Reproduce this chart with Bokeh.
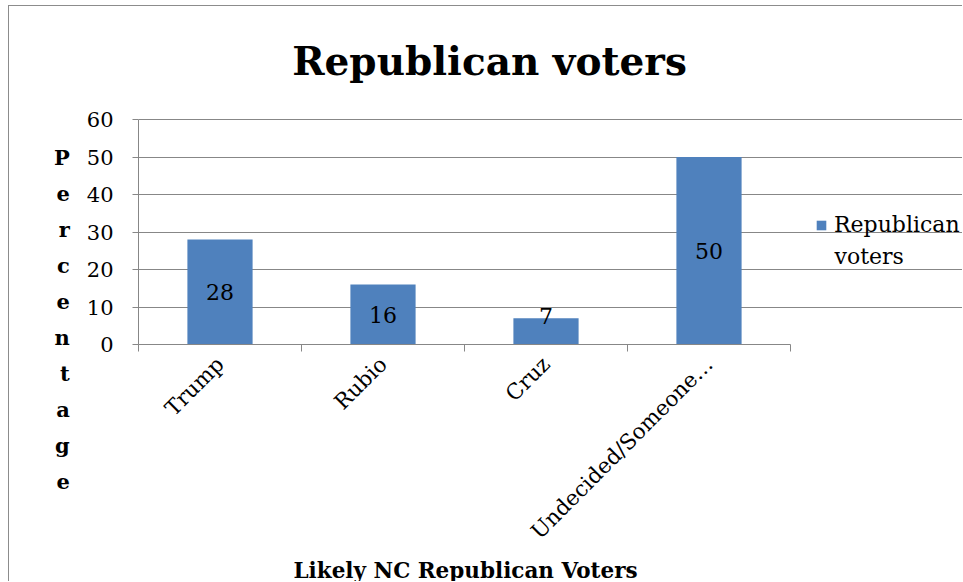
from math import pi
from bokeh.plotting import figure
from bokeh.models import Label, FixedTicker, Range1d, Legend, LegendItem, ColumnDataSource, Title
from bokeh.embed import file_html
from bokeh.resources import INLINE

categories = ["Trump", "Rubio", "Cruz", "Undecided/Someone…"]
values = [28, 16, 7, 50]
series_name = "Republican voters"
y_ticks = [0, 10, 20, 30, 40, 50, 60]
title_text = "Republican voters"
x_title = "Likely NC Republican Voters"
y_title = "Percentage"

FONT = "DejaVu Serif"
BLUE = "#4F81BD"
GRID = "#878787"

# page-pixel layout
FL, FR, FT, FB = 138, 790, 119, 344   # where x 0..4 and y 0..60 lie
OX, OY = 8, 5                          # outer chart border offset
W, H = 963, 582
CX, CY = OX + 1, OY + 1                # canvas origin (inside the 1px border)

n = len(categories)
x_end = n * (W - FL) / (FR - FL)
y_end = 60 * (FB - CY) / (FB - FT)

p = figure(width=W - CX, height=H - CY, output_backend="svg", toolbar_location=None,
           x_range=Range1d(0, x_end), y_range=Range1d(0, y_end),
           min_border_left=FL - CX, min_border_right=0,
           min_border_top=0, min_border_bottom=H - FB,
           outline_line_color=None, margin=(OY, 0, 0, OX))
p.styles = {"border-left": "1px solid #8c8c8c", "border-top": "1px solid #8c8c8c"}
p.title.visible = False

xs = [i + 0.5 for i in range(n)]
src = ColumnDataSource(dict(x=xs, top=values, cat=categories))
bars = p.vbar(x="x", top="top", width=0.4, bottom=0, source=src,
              fill_color=BLUE, line_color=None)

# x axis
xa = p.xaxis[0]
xa.bounds = (0, n)
xa.ticker = FixedTicker(ticks=xs, minor_ticks=list(range(n + 1)))
xa.major_label_overrides = {x: c for x, c in zip(xs, categories)}
xa.major_label_orientation = pi / 4
xa.major_label_standoff = 9
xa.major_tick_out = 0
xa.major_tick_in = 0
xa.minor_tick_out = 7
xa.minor_tick_in = 0
xa.minor_tick_line_color = GRID
xa.axis_line_color = GRID
xa.major_label_text_font = FONT
xa.major_label_text_font_size = "21.5px"
xa.major_label_text_color = "black"

# x axis title, placed under the axis and offset like the original
xt = Title(text=x_title, align="left", offset=293 - FL, text_font=FONT,
           text_font_size="21.5px", text_font_style="bold", text_color="black",
           standoff=0)
p.add_layout(xt, "below")

# y axis
ya = p.yaxis[0]
ya.bounds = (0, 60)
ya.ticker = FixedTicker(ticks=y_ticks)
ya.major_tick_out = 6
ya.major_tick_in = 0
ya.minor_tick_line_color = None
ya.axis_line_color = GRID
ya.major_tick_line_color = GRID
ya.major_label_text_font = FONT
ya.major_label_text_font_size = "21px"
ya.major_label_text_color = "black"
ya.major_label_standoff = 19
ya.axis_label = "\n" * 8 + "\n".join(y_title)
ya.axis_label_orientation = "horizontal"
ya.axis_label_text_font = FONT
ya.axis_label_text_font_size = "21px"
ya.axis_label_text_font_style = "bold"
ya.axis_label_text_color = "black"
ya.axis_label_text_line_height = 1.44
ya.axis_label_standoff = 14

p.xgrid.grid_line_color = None
p.ygrid.grid_line_color = GRID
p.ygrid.ticker = FixedTicker(ticks=y_ticks)
p.ygrid.bounds = (0, n)


def dx(X):
    return (X - FL) / (FR - FL) * n


def dy(Y):
    return (FB - Y) / (FB - FT) * 60


# data labels
for x, v in zip(xs, values):
    p.add_layout(Label(x=x, y=max(v / 2, 7.5), text=str(v), text_align="center",
                       text_baseline="middle", text_font=FONT, text_font_size="22px",
                       text_color="black"))

# chart title
p.add_layout(Label(x=dx(489), y=dy(60), text=title_text, text_align="center",
                   text_baseline="middle", text_font=FONT, text_font_size="39px",
                   text_font_style="bold", text_color="black"))

# legend: swatch beside the first line, name wrapped onto a second line
legend_words = series_name.split(" ")
legend = Legend(items=[LegendItem(label=legend_words[0], renderers=[bars])],
                location=(815 - FL, FB - 237), background_fill_alpha=0, border_line_color=None,
                label_text_font=FONT, label_text_font_size="22px", label_text_color="black",
                glyph_width=12, glyph_height=12, padding=0, margin=0, label_standoff=7)
p.add_layout(legend)
p.add_layout(Label(x=dx(834), y=dy(256), text=" ".join(legend_words[1:]), text_align="left",
                   text_baseline="middle", text_font=FONT, text_font_size="22px",
                   text_color="black"))

open("out.html", "w").write(file_html(p, INLINE))
